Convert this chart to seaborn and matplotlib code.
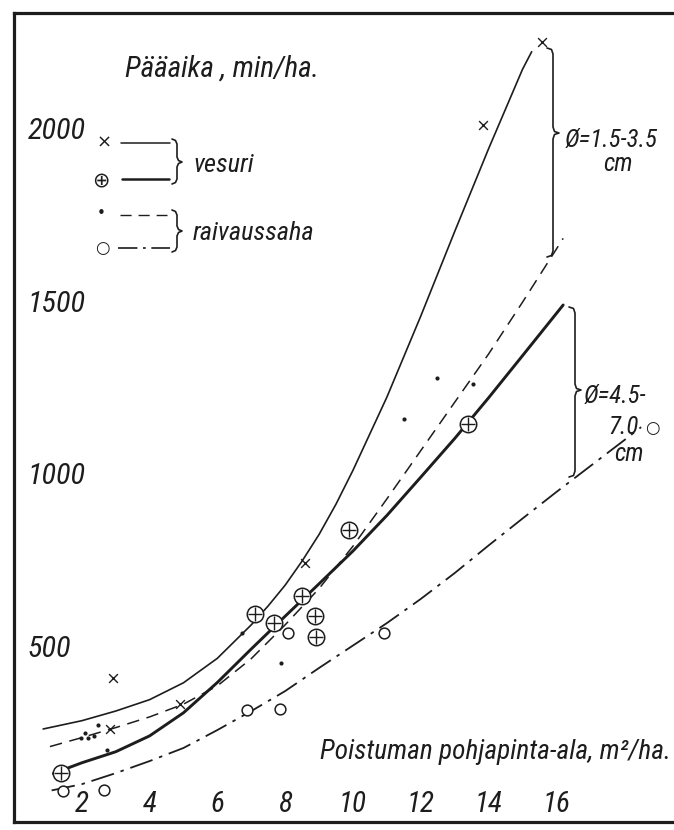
import matplotlib
matplotlib.use("Agg")
import matplotlib.pyplot as plt
from matplotlib import font_manager as fm
import seaborn as sns

# ---- observations: removed basal area (m²/ha) vs. main working time (min/ha)
# vesuri, Ø 1.5-3.5 cm (×)
vesuri_small_x = [2.82, 2.91, 4.91, 8.58, 13.83, 15.58]
vesuri_small_y = [258, 406, 330, 739, 2009, 2249]
# vesuri, Ø 4.5-7.0 cm (⊕)
vesuri_large_x = [1.39, 7.11, 7.68, 8.49, 8.88, 8.91, 9.89, 13.40]
vesuri_large_y = [131, 591, 565, 643, 585, 524, 835, 1142]
# raivaussaha, Ø 1.5-3.5 cm (•)
saha_small_x = [1.99, 2.09, 2.17, 2.37, 2.47, 2.75, 6.73, 7.88, 11.50, 12.47, 13.55]
saha_small_y = [232, 246, 232, 238, 270, 197, 536, 450, 1157, 1274, 1257]
# raivaussaha, Ø 4.5-7.0 cm (○)
saha_large_x = [1.45, 2.65, 6.88, 7.86, 8.07, 10.92]
saha_large_y = [79, 81, 313, 317, 536, 535]

# ---- graduated curves
curve_vesuri_small_x = [0.86, 2, 3, 4, 5, 6, 7, 7.5, 8, 8.5, 9, 9.5, 10, 11, 12, 13, 14, 15, 15.27]
curve_vesuri_small_y = [258, 282, 310, 343, 392, 463, 560, 615, 675, 745, 822, 910, 1008, 1220, 1455, 1700, 1940, 2170, 2221]
curve_vesuri_large_x = [1.16, 2, 3, 4, 5, 6, 7, 8, 9, 10, 11, 12, 13, 14, 15, 16.2]
curve_vesuri_large_y = [129, 160, 192, 238, 305, 393, 490, 585, 679, 774, 877, 988, 1100, 1218, 1340, 1487]
curve_saha_small_x = [1.06, 2, 3, 4, 5, 6, 7, 8, 9, 10, 11, 12, 13, 14, 15, 16.2]
curve_saha_small_y = [207, 233, 262, 293, 330, 383, 462, 560, 665, 788, 925, 1065, 1205, 1345, 1495, 1680]
curve_saha_large_x = [1.11, 2, 3, 4, 5, 6, 7, 8, 9, 10, 11, 12, 13, 14, 15, 16, 17, 18, 18.5]
curve_saha_large_y = [80, 98, 130, 165, 203, 255, 310, 368, 435, 500, 565, 635, 710, 790, 868, 945, 1020, 1095, 1133]

x_ticks = [2, 4, 6, 8, 10, 12, 14, 16, 18]
x_tick_labels = ["2", "4", "6", "8", "10", "12", "14", "16", ""]
y_ticks = [500, 1000, 1500, 2000]
y_tick_labels = ["500", "1000", "1500", "2000"]

# ---- style
sns.set_theme(style="white")
plt.rcParams["lines.scale_dashes"] = False
INK = "#1d1d1d"
DASHED = (0, (9, 5.5))
DASHDOT = (0, (17, 5, 2.5, 5))


def pick_lettering_font():
    """A narrow sans face for the hand-lettered labels, if one is installed."""
    entries = fm.fontManager.ttflist
    names = {f.name for f in entries}
    for name in ("Liberation Sans Narrow", "Roboto Condensed", "Open Sans Condensed",
                 "Noto Sans Condensed", "DejaVu Sans Condensed",
                 "Noto Sans SemiCondensed"):
        if name in names:
            return name, "normal"
    for base in ("DejaVu Sans", "Noto Sans", "Open Sans", "Roboto"):
        for f in entries:
            if f.name == base and "condensed" in str(f.stretch):
                return base, f.stretch
    return "DejaVu Sans", "normal"


LETTER_FAMILY, LETTER_STRETCH = pick_lettering_font()
plt.rcParams["font.family"] = [LETTER_FAMILY, "DejaVu Sans"]

W, H = 674, 830
fig = plt.figure(figsize=(W / 100, H / 100), dpi=100)
fig.patch.set_facecolor("white")
renderer = fig.canvas.get_renderer()

# axes geometry in pixels
X0, Y0 = 14, 818            # pixel position of the data origin
SX, SY = 33.9, 0.345         # pixels per unit
xmin, xmax = 0.0, (W - X0) / SX + 0.05
ymin, ymax = -(822 - Y0) / SY, (Y0 - 13) / SY
ax = fig.add_axes([
    (X0 + xmin * SX) / W,
    (H - (Y0 - ymin * SY)) / H,
    (xmax - xmin) * SX / W,
    (ymax - ymin) * SY / H,
])
ax.set_xlim(xmin, xmax)
ax.set_ylim(ymin, ymax)
ax.set_facecolor("white")

# frame: heavy left, top and bottom lines
for side in ("left", "top", "bottom"):
    ax.spines[side].set_color(INK)
    ax.spines[side].set_linewidth(2.3)
ax.spines["right"].set_visible(False)

# ---- curves
sns.lineplot(x=curve_vesuri_small_x, y=curve_vesuri_small_y, ax=ax, color=INK,
             lw=1.2, sort=False, estimator=None)
sns.lineplot(x=curve_vesuri_large_x, y=curve_vesuri_large_y, ax=ax, color=INK,
             lw=2.1, sort=False, estimator=None)
sns.lineplot(x=curve_saha_small_x, y=curve_saha_small_y, ax=ax, color=INK,
             lw=1.1, sort=False, estimator=None, linestyle=DASHED)
sns.lineplot(x=curve_saha_large_x, y=curve_saha_large_y, ax=ax, color=INK,
             lw=1.3, sort=False, estimator=None, linestyle=DASHDOT)

# ---- observations
sns.scatterplot(x=vesuri_small_x, y=vesuri_small_y, ax=ax, marker="x", s=40,
                color=INK, linewidth=1.0, zorder=4)
sns.scatterplot(x=vesuri_large_x, y=vesuri_large_y, ax=ax, marker="o", s=140,
                facecolor="white", edgecolor=INK, linewidth=1.1, zorder=4)
sns.scatterplot(x=vesuri_large_x, y=vesuri_large_y, ax=ax, marker="+", s=110,
                color=INK, linewidth=1.0, zorder=5)
sns.scatterplot(x=saha_small_x, y=saha_small_y, ax=ax, marker="o", s=9,
                color=INK, linewidth=0, zorder=4)
sns.scatterplot(x=saha_large_x, y=saha_large_y, ax=ax, marker="o", s=60,
                facecolor="white", edgecolor=INK, linewidth=1.1, zorder=4)


def fitted_size(s, width_px, max_size):
    """Font size at which the lettering spans the given width."""
    probe = fig.text(0, 0, s, fontsize=20, fontstyle="italic",
                     fontstretch=LETTER_STRETCH)
    w = probe.get_window_extent(renderer).width
    probe.remove()
    return min(max_size, 20 * width_px / w)


# ---- ticks with labels drawn inside the frame
ytick_size = fitted_size("2000", 58, 22)
xtick_size = fitted_size("16", 28, 21)
ax.set_xticks(x_ticks)
ax.set_xticklabels(x_tick_labels, fontsize=xtick_size, fontstyle="italic",
                   fontstretch=LETTER_STRETCH, color=INK, va="baseline")
ax.set_yticks(y_ticks)
ax.set_yticklabels(y_tick_labels, fontsize=ytick_size, fontstyle="italic",
                   fontstretch=LETTER_STRETCH, color=INK, ha="left")
ax.tick_params(axis="x", direction="in", length=7, width=1.2, color=INK, pad=-7.5)
ax.tick_params(axis="y", direction="in", length=7, width=1.2, color=INK, pad=-10)
ax.set_xlabel("")
ax.set_ylabel("")
ax.grid(False)


def F(px, py):
    """pixel position (origin top-left) -> figure fraction"""
    return px / W, 1 - py / H


def text(px, py, s, size, **kw):
    fig.text(*F(px, py), s, fontsize=size, fontstyle="italic",
             fontstretch=LETTER_STRETCH, color=INK, va="baseline",
             ha="left", **kw)


def brace(x, y0, y1, ym, w=5, lw=1.2):
    xs = [x - w, x - 1.5, x, x, x + 1.5, x + w, x + 1.5, x, x, x - 1.5, x - w]
    ys = [y0, y0 + 1.5, y0 + w, ym - w, ym - 1.5, ym, ym + 1.5, ym + w, y1 - w, y1 - 1.5, y1]
    fx = [xx / W for xx in xs]
    fy = [1 - yy / H for yy in ys]
    fig.add_artist(plt.Line2D(fx, fy, color=INK, lw=lw, transform=fig.transFigure))


def seg(x0, x1, y, lw, ls="-"):
    fig.add_artist(plt.Line2D([x0 / W, x1 / W], [1 - y / H, 1 - y / H], color=INK,
                              lw=lw, ls=ls, transform=fig.transFigure))


def symbol(px, py, s, size):
    fig.text(*F(px, py), s, fontsize=size, color=INK, ha="center", va="center",
             family="DejaVu Sans")


# ---- titles
text(125, 77, "Pääaika , min/ha.", fitted_size("Pääaika , min/ha.", 212, 21))
text(320, 759, "Poistuman pohjapinta-ala, m²/ha.",
     fitted_size("Poistuman pohjapinta-ala, m²/ha.", 350, 21))

# ---- key
symbol(104, 143, "×", 13)
seg(121, 170, 143, 1.1)
symbol(101, 180, "⊕", 15)
seg(122, 169, 179, 1.8)
symbol(101, 213, "•", 11)
seg(120, 167, 215, 1.0, (0, (8, 5)))
symbol(102, 248, "○", 12)
seg(118, 170, 248, 1.2, (0, (14, 4, 2, 4)))
brace(177, 139, 184, 162, w=5)
brace(177, 210, 252, 231, w=5)
key_size = fitted_size("raivaussaha", 125, 19)
text(193, 172, "vesuri", key_size)
text(193, 240, "raivaussaha", key_size)

# ---- diameter classes
class_size = fitted_size("Ø=1.5-3.5", 93, 18)
brace(553, 48, 257, 133, w=6)
text(565, 147, "Ø=1.5-3.5", class_size)
text(603, 171, "cm", class_size)
brace(575, 307, 477, 390, w=6)
text(584, 403, "Ø=4.5-", class_size)
text(608, 434, "7.0", class_size)
symbol(652, 428, "○", 12)
text(614, 461, "cm", class_size)

fig.savefig("out.png", dpi=100, facecolor="white")
